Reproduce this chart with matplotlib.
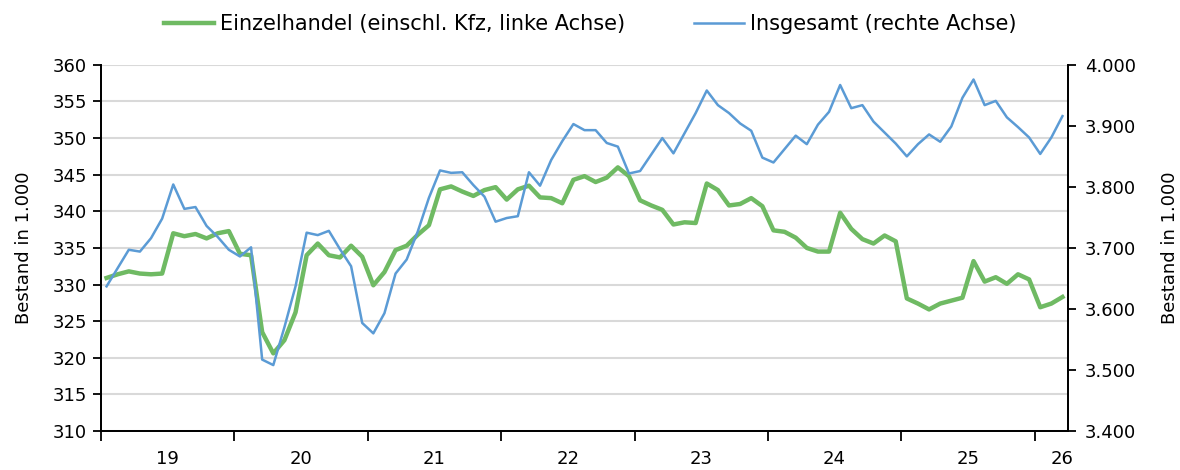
import numpy as np
import matplotlib
matplotlib.use('Agg')
import matplotlib.pyplot as plt
from matplotlib.ticker import FuncFormatter, FixedLocator

# Monatswerte Jan 2019 - Mar 2026 (Bestand in 1.000)
einzelhandel = [
    330.9, 331.4, 331.8, 331.5, 331.4, 331.5, 337.0, 336.6, 336.9, 336.3, 337.0, 337.3,
    334.2, 334.0, 323.5, 320.6, 322.4, 326.2, 334.0, 335.6, 334.0, 333.7, 335.3, 333.8,
    329.9, 331.7, 334.7, 335.3, 336.8, 338.1, 343.0, 343.4, 342.7, 342.1, 342.9, 343.3,
    341.6, 343.0, 343.5, 341.9, 341.8, 341.1, 344.3, 344.8, 344.0, 344.6, 346.0, 344.8,
    341.5, 340.8, 340.2, 338.2, 338.5, 338.4, 343.8, 342.9, 340.8, 341.0, 341.8, 340.7,
    337.4, 337.2, 336.4, 335.0, 334.5, 334.5, 339.8, 337.6, 336.2, 335.6, 336.7, 335.9,
    328.1, 327.4, 326.6, 327.4, 327.8, 328.2, 333.2, 330.4, 331.0, 330.1, 331.4, 330.7,
    326.9, 327.4, 328.3,
]
insgesamt = [
    3637, 3667, 3697, 3694, 3716, 3748, 3804, 3764, 3767, 3736, 3718, 3697,
    3686, 3701, 3517, 3508, 3570, 3637, 3725, 3721, 3728, 3698, 3670, 3577,
    3560, 3593, 3658, 3681, 3727, 3782, 3827, 3823, 3824, 3803, 3784, 3743,
    3749, 3752, 3824, 3802, 3844, 3875, 3903, 3893, 3893, 3872, 3866, 3822,
    3826, 3853, 3880, 3855, 3888, 3921, 3958, 3934, 3921, 3904, 3892, 3848,
    3840, 3862, 3884, 3870, 3902, 3923, 3967, 3929, 3934, 3907, 3889, 3871,
    3850, 3870, 3886, 3874, 3899, 3946, 3976, 3934, 3941, 3914, 3898, 3881,
    3854, 3881, 3916,
]
jahre = ['19', '20', '21', '22', '23', '24', '25', '26']

green = '#6fba63'
blue = '#5b9bd5'

plt.rcParams['font.family'] = ['DejaVu Sans']
plt.rcParams['font.size'] = 13

fig = plt.figure(figsize=(11.8, 4.7), dpi=100)
ax = fig.add_axes([0.0856, 0.083, 0.8195, 0.779])
ax2 = ax.twinx()

n = len(einzelhandel)
x = np.arange(n)

l1, = ax.plot(x, einzelhandel, color=green, lw=3.2, solid_joinstyle='round',
              label='Einzelhandel (einschl. Kfz, linke Achse)')
l2, = ax2.plot(x, insgesamt, color=blue, lw=1.8, solid_joinstyle='round',
               label='Insgesamt (rechte Achse)')

ax.set_xlim(-0.5, n - 0.5)
ax.set_ylim(310, 360)
ax.set_yticks(np.arange(310, 361, 5))
ax2.set_ylim(3400, 4000)
ax2.set_yticks(np.arange(3400, 4001, 100))
ax2.yaxis.set_major_formatter(FuncFormatter(lambda v, p: f'{v/1000:.3f}'))

ax.yaxis.grid(True, color='#d9d9d9', lw=1.5)
ax.set_axisbelow(True)

# Jahresgrenzen als Ticks, Jahreszahlen mittig
bounds = np.arange(-0.5, n, 12)
ax.xaxis.set_major_locator(FixedLocator(bounds))
ax.xaxis.set_major_formatter(FuncFormatter(lambda v, p: ''))
centers = [5.5 + 12 * k for k in range(len(jahre) - 1)] + [n - 1]
ax.xaxis.set_minor_locator(FixedLocator(centers))
ax.set_xticklabels(jahre, minor=True)
ax.tick_params(axis='x', which='minor', length=0, pad=14)
ax.tick_params(axis='x', which='major', length=7, width=1.3, direction='out')
ax.tick_params(axis='y', length=6, width=1.3, direction='out', pad=4)
ax2.tick_params(axis='y', length=6, width=1.3, direction='out', pad=6)

for a in (ax, ax2):
    a.spines['top'].set_visible(False)
    for s in ('left', 'right', 'bottom'):
        a.spines[s].set_linewidth(1.3)

ax.set_ylabel('Bestand in 1.000', labelpad=14)
ax2.set_ylabel('Bestand in 1.000', labelpad=18, rotation=90)

fig.legend(handles=[l1, l2], loc='upper center', bbox_to_anchor=(0.5, 1.01),
           ncol=2, frameon=False, handlelength=2.4, handletextpad=0.3,
           columnspacing=3.3, fontsize=15)

fig.savefig('out.png', dpi=100)
